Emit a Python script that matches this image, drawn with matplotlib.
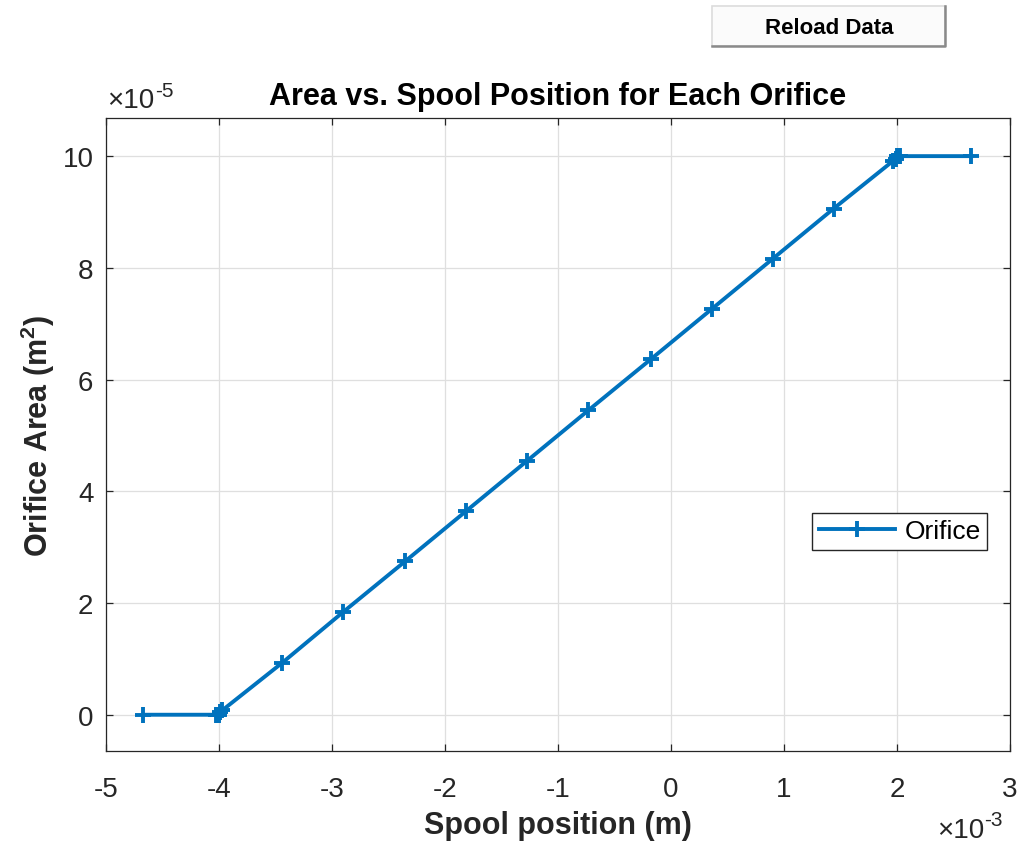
import matplotlib
matplotlib.use("Agg")
import matplotlib.pyplot as plt
from matplotlib.patches import Rectangle
from matplotlib.lines import Line2D

plt.rcParams['font.family'] = ['Liberation Sans', 'DejaVu Sans']
plt.rcParams['mathtext.fontset'] = 'custom'
plt.rcParams['mathtext.rm'] = 'Liberation Sans'
plt.rcParams['mathtext.bf'] = 'Liberation Sans:bold'
plt.rcParams['axes.unicode_minus'] = False

# spool position (x 1e-3 m) and orifice area (x 1e-5 m^2)
spool_pos = [-4.67, -4.03, -4.01, -4.0, -3.99, -3.97,
             -3.44, -2.90, -2.35, -1.81, -1.27, -0.73, -0.18, 0.36, 0.90, 1.44,
             1.97, 1.99, 2.0, 2.01, 2.03, 2.66]
orifice_area = [0.0, 0.0, 0.0, 0.0, 0.05, 0.08,
                0.93, 1.84, 2.75, 3.65, 4.55, 5.45, 6.36, 7.26, 8.16, 9.06,
                9.92, 9.95, 10.0, 10.0, 10.0, 10.0]

ink = '#262626'
blue = '#0072BD'

fig = plt.figure(figsize=(10.19, 8.45), dpi=100)
ax = fig.add_axes([0.104, 0.110, 0.887, 0.749])

ax.plot(spool_pos, orifice_area, color=blue, lw=2.8, marker='+',
        markersize=11, markeredgewidth=2.8, label='Orifice')

ax.set_xlim(-5, 3)
ax.set_ylim(-0.65, 10.68)
ax.set_xticks([-5, -4, -3, -2, -1, 0, 1, 2, 3])
ax.set_yticks([0, 2, 4, 6, 8, 10])
ax.grid(True, color='#dfdfdf', lw=0.9)
ax.set_axisbelow(True)
ax.tick_params(direction='in', top=True, right=True, length=5, width=0.9,
               colors=ink, labelsize=20)
ax.tick_params(axis='x', pad=18)
ax.tick_params(axis='y', pad=9)
for s in ax.spines.values():
    s.set_color(ink)
    s.set_linewidth(0.9)

ax.set_title('Area vs. Spool Position for Each Orifice', fontsize=22,
             fontweight='bold', color='black', pad=10)
ax.set_xlabel('Spool position (m)', fontsize=22, fontweight='bold', color=ink,
              labelpad=6)
ax.set_ylabel('Orifice Area (m$^{\\mathbf{2}}$)', fontsize=22, fontweight='bold',
              color=ink, labelpad=4)

# exponent labels like MATLAB
fig.text(107 / 1019, 1 - 108 / 845, '\u00d710', fontsize=20, color=ink,
         ha='left', va='baseline')
fig.text(155 / 1019, 1 - 97 / 845, '-5', fontsize=15, color=ink,
         ha='left', va='baseline')
fig.text(937 / 1019, 1 - 838 / 845, '\u00d710', fontsize=20, color=ink,
         ha='left', va='baseline')
fig.text(984 / 1019, 1 - 826 / 845, '-3', fontsize=15, color=ink,
         ha='left', va='baseline')

leg = ax.legend(loc='lower right', bbox_to_anchor=(0.975, 0.318), borderaxespad=0,
                fontsize=19, fancybox=False, framealpha=1, edgecolor=ink,
                handlelength=2.9, handletextpad=0.35, borderpad=0.25)
leg.get_frame().set_linewidth(1.0)

# "Reload Data" button
fig.patches.append(Rectangle((712 / 1019, 1 - 47 / 845), 233 / 1019, 40 / 845,
                             transform=fig.transFigure, facecolor='#fbfbfb',
                             edgecolor='#dcdcdc', lw=1.2))
fig.lines.append(Line2D([712 / 1019, 945 / 1019, 945 / 1019],
                        [1 - 47 / 845, 1 - 47 / 845, 1 - 7 / 845],
                        transform=fig.transFigure, color='#8a8a8a', lw=1.8))
fig.text(829 / 1019, 1 - 28 / 845, 'Reload Data', ha='center', va='center',
         fontsize=16, fontweight='bold', color='black')

fig.savefig('out.png', dpi=100)
